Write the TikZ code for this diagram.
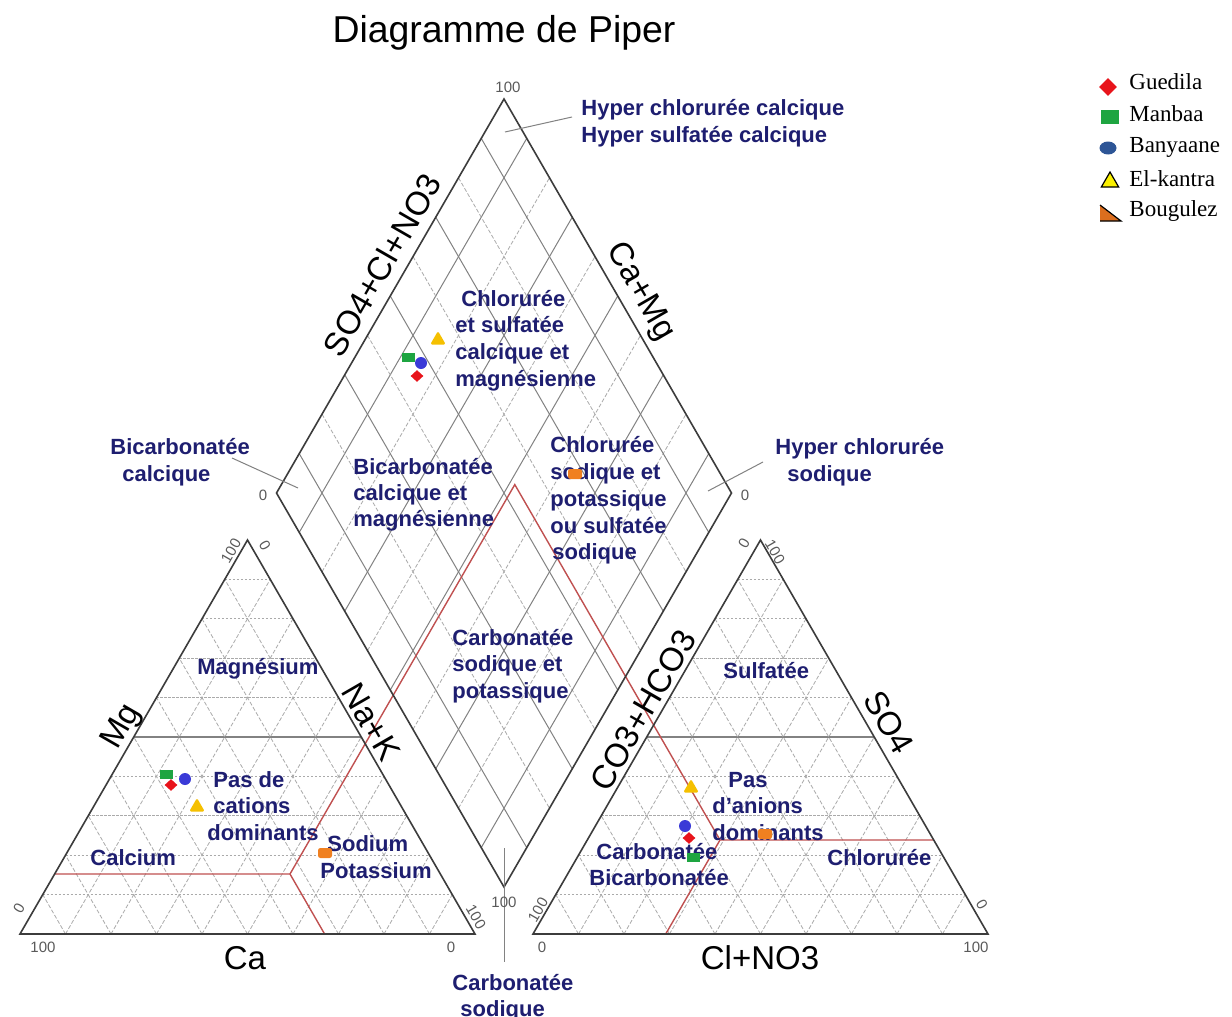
\documentclass[tikz,border=0pt]{standalone}
\usepackage{fontspec}
\setmainfont{Liberation Sans}
\newfontfamily\legfont{Liberation Serif}
\usetikzlibrary{calc,shapes.geometric}
\definecolor{navy}{RGB}{30,30,112}
\definecolor{frame}{RGB}{60,60,60}
\definecolor{gridd}{RGB}{130,130,130}
\definecolor{gridl}{RGB}{170,170,170}
\definecolor{redl}{RGB}{192,80,80}
\definecolor{mred}{RGB}{232,20,27}
\definecolor{mgreen}{RGB}{30,165,65}
\definecolor{mblue}{RGB}{58,58,215}
\definecolor{mdblue}{RGB}{45,85,150}
\definecolor{myel}{RGB}{245,192,0}
\definecolor{mlyel}{RGB}{250,240,0}
\definecolor{mora}{RGB}{240,128,32}
\definecolor{mbrown}{RGB}{220,110,30}
\definecolor{tickc}{RGB}{90,90,90}
\definecolor{leadc}{RGB}{130,130,130}
\tikzset{
  outline/.style={draw=frame, line width=0.8pt, line join=miter},
  gsolid/.style={draw=gridd, line width=0.5pt},
  gdash/.style={draw=gridl, line width=0.4pt, dash pattern=on 2pt off 1pt},
  gdot/.style={draw=gridl, line width=0.45pt, dash pattern=on 1.2pt off 0.8pt},
  half/.style={draw=gridd, line width=0.6pt},
  redline/.style={draw=redl, line width=0.7pt},
  lead/.style={draw=leadc, line width=0.5pt},
  lbl/.style={anchor=base west, inner sep=0pt, text=navy, font=\fontsize{11}{13}\bfseries\selectfont},
  axislbl/.style={inner sep=0pt, text=black, font=\fontsize{16.5}{18}\selectfont},
  tick/.style={inner sep=0pt, text=tickc, font=\fontsize{7.5}{8}\selectfont},
  leg/.style={anchor=west, inner sep=0pt, text=black, font=\legfont\fontsize{11.5}{12}\selectfont},
  mkR/.style={diamond, fill=mred, inner sep=0pt, minimum width=6.5pt, minimum height=6pt},
  mkG/.style={rectangle, fill=mgreen, inner sep=0pt, minimum width=6.5pt, minimum height=4.5pt},
  mkB/.style={circle, fill=mblue, inner sep=0pt, minimum size=6pt},
  mkY/.style={regular polygon, regular polygon sides=3, fill=myel, inner sep=0pt, minimum size=9pt, rounded corners=0.8pt},
  mkO/.style={rectangle, fill=mora, inner sep=0pt, minimum width=7pt, minimum height=5pt, rounded corners=1.2pt}
}
\begin{document}
\begin{tikzpicture}[x=0.5pt,y=-0.5pt]
\fill[white] (0,0) rectangle (1232,1017);
\useasboundingbox (0,0) rectangle (1232,1017);

% vertices
\coordinate (LA) at (20,934);
\coordinate (LB) at (475,934);
\coordinate (LC) at (247.5,540);
\coordinate (RA) at (533,934);
\coordinate (RB) at (988,934);
\coordinate (RC) at (760.5,540);
\coordinate (DL) at (276.5,493);
\coordinate (DT) at (504,99);
\coordinate (DR) at (731.5,493);
\coordinate (DB) at (504,887);

% triangle grids
\foreach \A/\B/\C in {LA/LB/LC, RA/RB/RC}{
  \foreach \i in {1,...,9}{
    \pgfmathsetmacro\t{\i/10}
    \ifnum\i=5\relax
      \draw[half] ($(\A)!\t!(\C)$) -- ($(\B)!\t!(\C)$);
    \else
      \draw[gdot] ($(\A)!\t!(\C)$) -- ($(\B)!\t!(\C)$);
    \fi
    \draw[gdash] ($(\A)!\t!(\B)$) -- ($(\C)!\t!(\B)$);
    \draw[gdash] ($(\A)!\t!(\B)$) -- ($(\A)!\t!(\C)$);
  }
}
% diamond grid
\foreach \i in {1,...,9}{
  \pgfmathsetmacro\t{\i/10}
  \ifodd\i
    \draw[gsolid] ($(DL)!\t!(DB)$) -- ($(DT)!\t!(DR)$);
    \draw[gsolid] ($(DL)!\t!(DT)$) -- ($(DB)!\t!(DR)$);
  \else
    \draw[gdash] ($(DL)!\t!(DB)$) -- ($(DT)!\t!(DR)$);
    \draw[gdash] ($(DL)!\t!(DT)$) -- ($(DB)!\t!(DR)$);
  \fi
}

% red classification lines
\coordinate (rP) at (290,874);
\coordinate (rQ) at (720,840);
\coordinate (rApex) at (514.8,484.6);
\coordinate (rL) at (54.6,874);
\coordinate (rLb) at (324.6,934);
\coordinate (rR) at (933.7,840);
\coordinate (rRb) at (665.7,934);
\draw[redline] (rL) -- (rP) -- (rLb);
\draw[redline] (rP) -- (rApex) -- (rQ);
\draw[redline] (rR) -- (rQ) -- (rRb);

% outlines
\draw[outline] (LA) -- (LB) -- (LC) -- cycle;
\draw[outline] (RA) -- (RB) -- (RC) -- cycle;
\draw[outline] (DL) -- (DT) -- (DR) -- (DB) -- cycle;

% leader lines
\coordinate (k1a) at (572,117);
\coordinate (k1b) at (505,132);
\coordinate (k2a) at (232,458);
\coordinate (k2b) at (298,488);
\coordinate (k3a) at (763,462);
\coordinate (k3b) at (708,491);
\coordinate (k4a) at (504,848);
\coordinate (k4b) at (504,962);
\draw[lead] (k1a) -- (k1b);
\draw[lead] (k2a) -- (k2b);
\draw[lead] (k3a) -- (k3b);
\draw[lead] (k4a) -- (k4b);

% title
\node[inner sep=0pt, font=\fontsize{18.7}{20}\selectfont] (title) at (504,33) {Diagramme de Piper};

% axis labels
\node[axislbl, rotate=60] (aSO) at (382,265) {SO4+Cl+NO3};
\node[axislbl, rotate=-60] (aCaMg) at (640,292) {Ca+Mg};
\node[axislbl, rotate=60] (aMg) at (122,727) {Mg};
\node[axislbl, rotate=-60] (aNaK) at (371,722) {Na+K};
\node[axislbl, rotate=60] (aCO) at (643,710) {CO3+HCO3};
\node[axislbl, rotate=-60] (aSO4) at (889,722) {SO4};
\node[axislbl] (aCa) at (245,958) {Ca};
\node[axislbl] (aCl) at (760,958) {Cl+NO3};

% tick labels
\node[tick] (t1) at (508,87) {100};
\node[tick] (t2) at (263,495) {0};
\node[tick] (t3) at (745,495) {0};
\node[tick, rotate=60] (t4) at (231,551) {100};
\node[tick, rotate=-60] (t5) at (265,546) {0};
\node[tick, rotate=60] (t6) at (19,908) {0};
\node[tick] (t7) at (43,947) {100};
\node[tick] (t8) at (451,947) {0};
\node[tick, rotate=-60] (t9) at (476,917) {100};
\node[tick, rotate=60] (t10) at (744,543) {0};
\node[tick, rotate=-60] (t11) at (775,552) {100};
\node[tick, rotate=60] (t12) at (538,910) {100};
\node[tick] (t13) at (542,947) {0};
\node[tick] (t14) at (976,947) {100};
\node[tick, rotate=-60] (t15) at (982,905) {0};
\node[tick] (t16) at (504,902) {100};

% region labels
\foreach \n/\x/\y/\t in {
 l1/581/107/{Hyper chlorurée calcique},
 l2/581/134/{Hyper sulfatée calcique},
 l3/110/446/{Bicarbonatée},
 l4/122/473/{calcique},
 l5/775/446/{Hyper chlorurée},
 l6/787/473/{sodique},
 l7/461/298/{Chlorurée},
 l8/455/324/{et sulfatée},
 l9/455/351/{calcique et},
 l10/455/378/{magnésienne},
 l11/353/466/{Bicarbonatée},
 l12/353/492/{calcique et},
 l13/353/518/{magnésienne},
 l14/550/444/{Chlorurée},
 l15/550/471/{sodique et},
 l16/550/498/{potassique},
 l17/550/525/{ou sulfatée},
 l18/552/551/{sodique},
 l19/452/637/{Carbonatée},
 l20/452/663/{sodique et},
 l21/452/690/{potassique},
 l22/197/666/{Magnésium},
 l23/213/779/{Pas de},
 l24/213/805/{cations},
 l25/207/832/{dominants},
 l26/90/857/{Calcium},
 l27/327/843/{Sodium},
 l28/320/870/{Potassium},
 l29/723/670/{Sulfatée},
 l30/728/779/{Pas},
 l31/712/805/{d'anions},
 l32/712/832/{dominants},
 l33/827/857/{Chlorurée},
 l34/596/851/{Carbonatée},
 l35/589/877/{Bicarbonatée},
 l36/452/982/{Carbonatée},
 l37/460/1008/{sodique}}
 { \node[lbl] (\n) at (\x,\y+8) {\t}; }

% data points: diamond
\node[mkY] (dY) at (438,340) {};
\node[mkG] (dG) at (408,357) {};
\node[mkB] (dB) at (421,363) {};
\node[mkR] (dR) at (417,376) {};
\node[mkO] (dO) at (575,474) {};
% data points: cations
\node[mkG] (cG) at (166,774) {};
\node[mkR] (cR) at (171,785) {};
\node[mkB] (cB) at (185,779) {};
\node[mkY] (cY) at (197,807) {};
\node[mkO] (cO) at (325,853) {};
% data points: anions
\node[mkY] (aY) at (691,788) {};
\node[mkB] (aB) at (685,826) {};
\node[mkR] (aR) at (689,838) {};
\node[mkG] (aG) at (693,857) {};
\node[mkO] (aO) at (765,834) {};

% legend
\node[diamond, fill=mred, inner sep=0pt, minimum size=9pt] (gR) at (1108,87) {};
\node[rectangle, fill=mgreen, inner sep=0pt, minimum width=9pt, minimum height=7pt] (gG) at (1110,117) {};
\node[ellipse, fill=mdblue, inner sep=0pt, minimum width=8.5pt, minimum height=6.5pt] (gB) at (1108,148) {};
\node[regular polygon, regular polygon sides=3, fill=mlyel, draw=black, line width=0.6pt, inner sep=0pt, minimum size=10pt] (gY) at (1110,182) {};
\coordinate (gO1) at (1100,205);
\coordinate (gO2) at (1100,221);
\coordinate (gO3) at (1121,221);
\fill[mbrown] (gO1) -- (gO2) -- (gO3) -- cycle;
\draw[black, line width=0.6pt] (gO1) -- (gO3) -- (gO2);
\node[leg] (e1) at (1129,82) {Guedila};
\node[leg] (e2) at (1129,114) {Manbaa};
\node[leg] (e3) at (1129,147) {Banyaane};
\node[leg] (e4) at (1129,179) {El-kantra};
\node[leg] (e5) at (1129,211) {Bougulez};
\end{tikzpicture}
\end{document}
